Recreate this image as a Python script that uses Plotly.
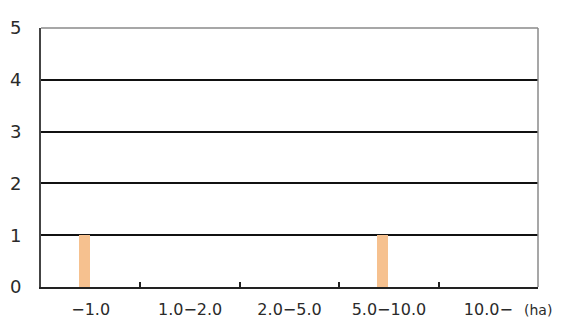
import plotly.graph_objects as go

# Farm size classes (ha) and counts
size_classes = ["−1.0", "1.0−2.0", "2.0−5.0", "5.0−10.0", "10.0−"]
counts = [1, 0, 0, 1, 0]
y_ticks = [0, 1, 2, 3, 4, 5]

W, H = 567, 321
L, R, T, B = 41, 29, 28, 34

fig = go.Figure()
fig.add_trace(go.Bar(
    x=size_classes,
    y=counts,
    width=0.11,
    offset=-0.12,
    marker=dict(color="#F6C18F", line=dict(width=0)),
    showlegend=False,
))

font = dict(family="DejaVu Sans, Arial, sans-serif", size=16, color="#2a2a2a")

fig.update_layout(
    width=W, height=H,
    margin=dict(l=L, r=R, t=T, b=B, autoexpand=False),
    paper_bgcolor="white",
    plot_bgcolor="white",
    font=font,
    bargap=0,
    xaxis=dict(
        type="category",
        range=[-0.5, 4.5],
        automargin=False,
        showgrid=False,
        showline=True, linecolor="#222222", linewidth=2,
        ticks="inside", tickson="boundaries", ticklen=5,
        tickcolor="#222222", tickwidth=2,
        mirror=False,
        ticklabelstandoff=7,
        tickfont=font,
    ),
    yaxis=dict(
        range=[0, 5],
        tickvals=y_ticks,
        automargin=False,
        showgrid=True, gridcolor="#111111", gridwidth=1.5,
        showline=True, linecolor="#444444", linewidth=2,
        ticks="", ticklabelstandoff=14,
        zeroline=False,
        tickfont=dict(family=font["family"], size=18, color="#2a2a2a"),
    ),
    shapes=[
        # light border along the top and right edges
        dict(type="line", xref="paper", yref="paper", x0=0, x1=1, y0=1, y1=1,
             line=dict(color="#8a8a8a", width=1.5)),
        dict(type="line", xref="paper", yref="paper", x0=1, x1=1, y0=0, y1=1,
             line=dict(color="#8a8a8a", width=1.5)),
    ],
    annotations=[
        dict(text="(ha)", xref="paper", yref="paper", x=1.0, y=0,
             xshift=-16, yshift=-23, xanchor="left", yanchor="middle",
             showarrow=False, font=dict(family=font["family"], size=14, color="#2a2a2a")),
    ],
)

fig.write_html("out.html")
